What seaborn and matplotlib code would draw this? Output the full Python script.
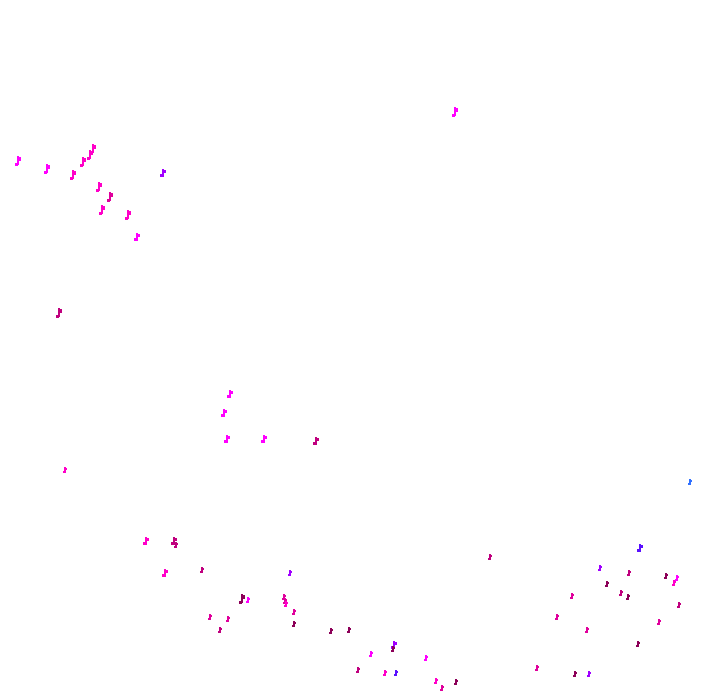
import pandas as pd
import matplotlib.pyplot as plt
import seaborn as sns

# point positions (x to the right, y downwards)
x = [18, 47, 73, 83, 90, 93, 99, 110, 102, 128, 137, 163, 455, 59,
     230, 224, 227, 264, 316, 65,
     146, 174, 176, 165, 202, 242, 248, 290, 284, 285, 286, 294, 294, 210, 228, 220,
     331, 349, 394, 393, 371, 426, 358, 385, 396, 436, 442, 456,
     640, 600, 629, 666, 677, 674, 607, 621, 628, 572, 679, 557, 659, 587, 638, 575, 589,
     490, 537, 690]
y = [161, 169, 175, 162, 155, 149, 187, 197, 210, 215, 237, 173, 112, 313,
     394, 413, 439, 439, 441, 470,
     541, 541, 545, 573, 570, 599, 600, 573, 597, 601, 604, 612, 624, 617, 619, 630,
     631, 630, 645, 649, 654, 658, 670, 673, 673, 681, 688, 682,
     548, 568, 573, 576, 578, 583, 584, 593, 597, 596, 605, 617, 622, 630, 644, 674, 674,
     557, 668, 482]
# colour level: 0 dark magenta ... 7 blue
tone = [4, 4, 3, 3, 3, 3, 3, 2, 3, 3, 4, 5, 4, 1,
        4, 4, 4, 4, 1, 3,
        3, 1, 1, 3, 1, 0, 4, 5, 2, 2, 3, 2, 0, 2, 2, 1,
        0, 0, 5, 0, 4, 4, 1, 3, 6, 3, 2, 0,
        6, 5, 1, 0, 4, 3, 0, 1, 0, 2, 1, 2, 2, 2, 0, 0, 5,
        1, 2, 7]
size = [5, 5, 5, 5, 5, 5, 5, 5, 5, 5, 4, 4, 5, 5,
        4, 4, 4, 4, 4, 3,
        4, 4, 3, 4, 3, 5, 3, 3, 3, 3, 3, 3, 3, 3, 3, 3,
        3, 3, 4, 3, 3, 3, 3, 3, 3, 3, 3, 3,
        4, 3, 3, 3, 3, 3, 3, 3, 3, 3, 3, 3, 3, 3, 3, 3, 3,
        3, 3, 3]

colors = ["#8c0058", "#c0007e", "#e0009c", "#ff00c8",
          "#ff00ff", "#a000ff", "#5a10ff", "#3070ff"]

df = pd.DataFrame({"x": x, "y": y, "tone": tone, "size": size})

fig = plt.figure(figsize=(7.2, 6.92), dpi=100)
ax = fig.add_axes([0, 0, 1, 1])
sns.scatterplot(data=df, x="x", y="y", hue="tone", size="size",
                palette=colors, sizes=(10, 36), marker="$♪$",
                linewidth=0.3, edgecolor="face", antialiased=False,
                legend=False, ax=ax)
ax.set_xlim(0, 720)
ax.set_ylim(692, 0)
ax.axis("off")
fig.savefig("out.png", dpi=100)
